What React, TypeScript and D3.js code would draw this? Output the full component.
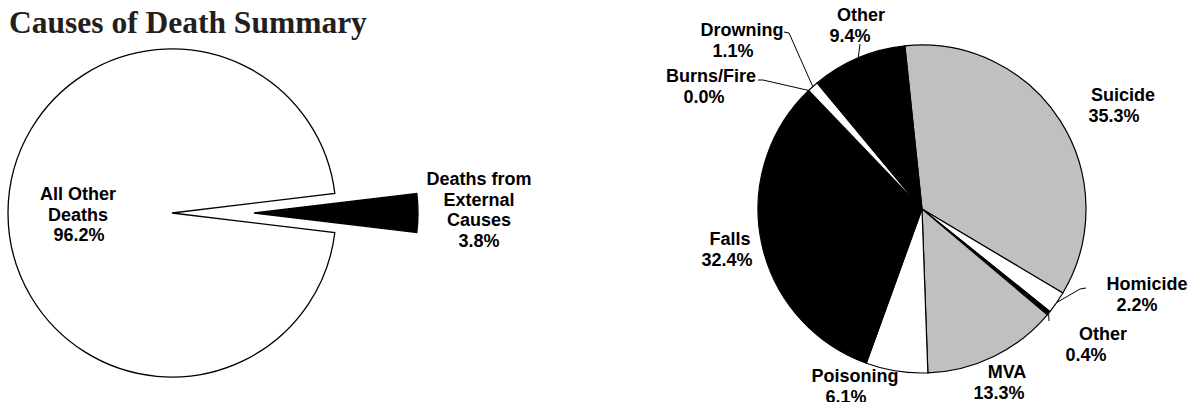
import React, { useEffect, useRef } from 'react';
import * as d3 from 'd3';

// Left pie: all deaths split
const leftCategories = ['All Other Deaths', 'Deaths from External Causes'];
const leftLabelLines = [['All Other', 'Deaths'], ['Deaths from', 'External', 'Causes']];
const leftValues = [96.2, 3.8];

// Right pie: external causes breakdown
const rightCategories = ['Suicide', 'Homicide', 'Other', 'MVA', 'Poisoning', 'Falls', 'Burns/Fire', 'Drowning', 'Other'];
const rightValues = [35.3, 2.2, 0.4, 13.3, 6.1, 32.4, 0.0, 1.1, 9.4];

const GRAY = '#c0c0c0';
const leftFills = ['#ffffff', '#000000'];
const rightFills = [GRAY, '#ffffff', '#000000', GRAY, '#ffffff', '#000000', GRAY, '#ffffff', '#000000'];

// label placement: center x of every line, baseline of first line
const leftLabelPos = [
    { xs: [78, 78, 79], y: 200 },
    { xs: [479, 479, 479, 479], y: 185 },
];
const rightLabelPos = [
    { xs: [1123, 1114], y: 101, leader: null },
    { xs: [1147, 1137], y: 290, leader: [[1080, 289], [1086, 288]] },
    { xs: [1103, 1086], y: 340, leader: [[1049, 321]] },
    { xs: [1007, 999], y: 378, leader: null },
    { xs: [855, 846], y: 382, leader: null },
    { xs: [730, 727], y: 245, leader: null },
    { xs: [711, 704], y: 82, leader: [[763, 80], [758, 80]] },
    { xs: [742, 733], y: 36, leader: [[789, 33], [784, 32]] },
    { xs: [861, 850], y: 21, leader: [[860, 44]] },
];

const LINE_H = 20.5;
const fmt = (v: number) => v.toFixed(1) + '%';

const App = () => {
    const svgRef = useRef<SVGSVGElement>(null);

    useEffect(() => {
        const svg = d3.select(svgRef.current);
        svg.selectAll('*').remove();

        // Title
        svg.append('text')
            .attr('x', 9)
            .attr('y', 33)
            .style('font-family', '"Liberation Serif", "Times New Roman", serif')
            .style('font-weight', 'bold')
            .style('font-size', '31.5px')
            .style('fill', '#231f20')
            .text('Causes of Death Summary');

        const labelFont = (sel: any) => sel
            .style('font-family', '"Liberation Sans", Arial, sans-serif')
            .style('font-weight', 'bold')
            .style('font-size', '18px')
            .style('fill', '#000');

        // ---- Left pie ----
        const r = 164;
        const lc = { x: 172, y: 213 };
        const leftTotal = d3.sum(leftValues);
        // centre the external-causes slice on 3 o'clock
        const leftStart = Math.PI / 2 + (leftValues[1] / leftTotal) * Math.PI;
        const leftPie = d3.pie<number>().sort(null)
            .startAngle(leftStart)
            .endAngle(leftStart + 2 * Math.PI);
        const leftArcs = leftPie(leftValues);
        const arc = d3.arc<any>().innerRadius(0).outerRadius(r);
        const explode = 82;

        const gl = svg.append('g').attr('transform', `translate(${lc.x},${lc.y})`);
        gl.selectAll('path')
            .data(leftArcs)
            .enter()
            .append('path')
            .attr('d', arc)
            .attr('transform', (d, i) => {
                if (i !== 1) return null;
                const mid = (d.startAngle + d.endAngle) / 2;
                return `translate(${explode * Math.sin(mid)},${-explode * Math.cos(mid)})`;
            })
            .style('fill', (d, i) => leftFills[i])
            .style('stroke', '#000')
            .style('stroke-width', 1.3)
            .style('stroke-linejoin', 'miter');

        leftArcs.forEach((d, i) => {
            const lines = [...leftLabelLines[i], fmt(leftValues[i])];
            const pos = leftLabelPos[i];
            const t = svg.append('text').attr('aria-label', leftCategories[i]).call(labelFont)
                .attr('text-anchor', 'middle');
            lines.forEach((ln, k) => {
                t.append('tspan').attr('x', pos.xs[k]).attr('y', pos.y + k * LINE_H).text(ln);
            });
        });

        // ---- Right pie ----
        const rc = { x: 922, y: 209 };
        const rightStart = -6 * Math.PI / 180;
        const rightPie = d3.pie<number>().sort(null)
            .startAngle(rightStart)
            .endAngle(rightStart + 2 * Math.PI);
        const rightArcs = rightPie(rightValues);

        const gr = svg.append('g').attr('transform', `translate(${rc.x},${rc.y})`);
        gr.selectAll('path')
            .data(rightArcs)
            .enter()
            .append('path')
            .attr('d', arc)
            .style('fill', (d, i) => rightFills[i])
            .style('stroke', '#000')
            .style('stroke-width', 1.2)
            .style('stroke-linejoin', 'miter');

        rightArcs.forEach((d, i) => {
            const pos = rightLabelPos[i];
            if (pos.leader) {
                const mid = (d.startAngle + d.endAngle) / 2;
                const edge: [number, number] = [rc.x + r * Math.sin(mid), rc.y - r * Math.cos(mid)];
                const pts = [edge, ...pos.leader] as [number, number][];
                svg.append('path')
                    .attr('d', d3.line()(pts))
                    .style('fill', 'none')
                    .style('stroke', '#000')
                    .style('stroke-width', 1);
            }
            const lines = [rightCategories[i], fmt(rightValues[i])];
            const t = svg.append('text').call(labelFont).attr('text-anchor', 'middle');
            lines.forEach((ln, k) => {
                t.append('tspan').attr('x', pos.xs[k]).attr('y', pos.y + k * LINE_H).text(ln);
            });
        });
    }, []);

    return (
        <div style={{ position: 'absolute', left: 0, top: 0, width: 1193, height: 402, background: '#fff' }}>
            <svg ref={svgRef} width={1193} height={402} style={{ display: 'block' }}></svg>
        </div>
    );
};

export default App;
